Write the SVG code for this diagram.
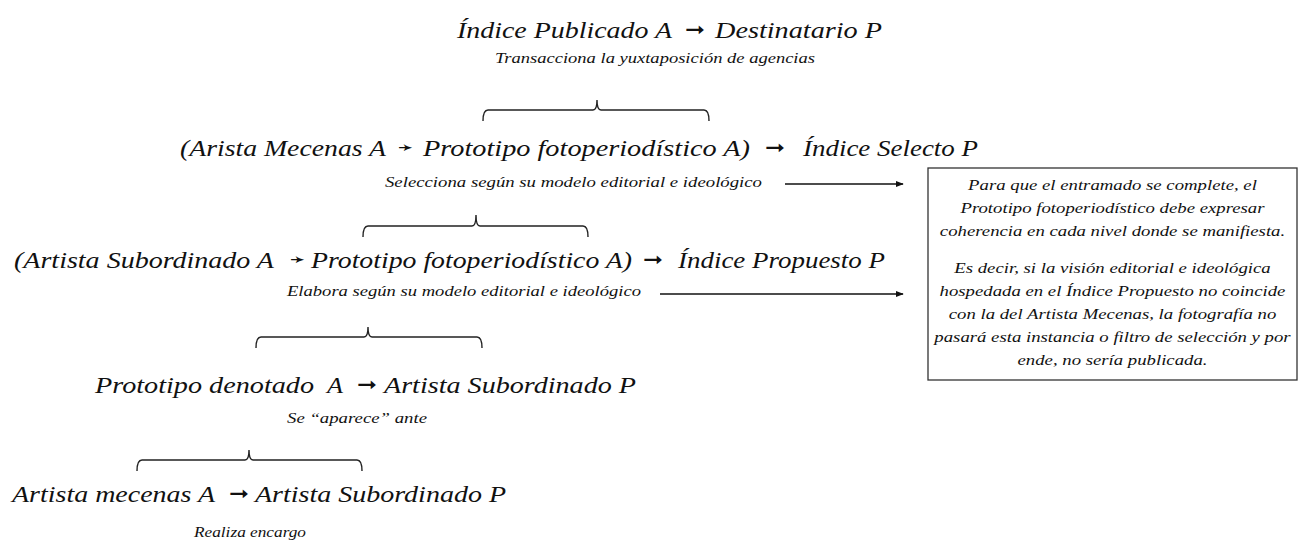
<svg xmlns="http://www.w3.org/2000/svg" width="1298" height="542" viewBox="0 0 1298 542">
<defs>
  <marker id="ah" viewBox="0 0 10 10" refX="9" refY="5" markerWidth="8" markerHeight="8" markerUnits="userSpaceOnUse" orient="auto">
    <path d="M0,1 L10,5 L0,9 z" fill="#111"/>
  </marker>
</defs>
<rect width="1298" height="542" fill="#fff"/>

<g id="node-indice-publicado" fill="#111">
  <text font-family="Liberation Serif" font-style="italic" font-size="24" x="457" y="38" textLength="215" lengthAdjust="spacingAndGlyphs">Índice Publicado A</text>
  <text font-family="DejaVu Sans" font-size="20" x="685" y="36" textLength="20" lengthAdjust="spacingAndGlyphs">➞</text>
  <text font-family="Liberation Serif" font-style="italic" font-size="24" x="715" y="38" textLength="167" lengthAdjust="spacingAndGlyphs">Destinatario P</text>
  <text font-family="Liberation Serif" font-style="italic" font-size="15.5" x="495" y="63" textLength="320" lengthAdjust="spacingAndGlyphs">Transacciona la yuxtaposición de agencias</text>
</g>

<g id="node-indice-selecto" fill="#111">
  <text font-family="Liberation Serif" font-style="italic" font-size="24" x="180" y="156" textLength="206" lengthAdjust="spacingAndGlyphs">(Arista Mecenas A</text>
  <text font-family="DejaVu Sans" font-size="20" x="398" y="154" textLength="15" lengthAdjust="spacingAndGlyphs">➛</text>
  <text font-family="Liberation Serif" font-style="italic" font-size="24" x="423" y="156" textLength="327" lengthAdjust="spacingAndGlyphs">Prototipo fotoperiodístico A)</text>
  <text font-family="DejaVu Sans" font-size="20" x="765" y="154" textLength="20" lengthAdjust="spacingAndGlyphs">➞</text>
  <text font-family="Liberation Serif" font-style="italic" font-size="24" x="803" y="156" textLength="175" lengthAdjust="spacingAndGlyphs">Índice Selecto P</text>
  <text font-family="Liberation Serif" font-style="italic" font-size="15.5" x="385" y="187" textLength="377" lengthAdjust="spacingAndGlyphs">Selecciona según su modelo editorial e ideológico</text>
</g>

<g id="node-indice-propuesto" fill="#111">
  <text font-family="Liberation Serif" font-style="italic" font-size="24" x="14" y="268" textLength="260" lengthAdjust="spacingAndGlyphs">(Artista Subordinado A</text>
  <text font-family="DejaVu Sans" font-size="20" x="290" y="266" textLength="15" lengthAdjust="spacingAndGlyphs">➛</text>
  <text font-family="Liberation Serif" font-style="italic" font-size="24" x="311" y="268" textLength="321" lengthAdjust="spacingAndGlyphs">Prototipo fotoperiodístico A)</text>
  <text font-family="DejaVu Sans" font-size="20" x="643" y="266" textLength="20" lengthAdjust="spacingAndGlyphs">➞</text>
  <text font-family="Liberation Serif" font-style="italic" font-size="24" x="678" y="268" textLength="207" lengthAdjust="spacingAndGlyphs">Índice Propuesto P</text>
  <text font-family="Liberation Serif" font-style="italic" font-size="15.5" x="287" y="296" textLength="354" lengthAdjust="spacingAndGlyphs">Elabora según su modelo editorial e ideológico</text>
</g>

<g id="node-prototipo-denotado" fill="#111">
  <text font-family="Liberation Serif" font-style="italic" font-size="24" x="95" y="393" textLength="219" lengthAdjust="spacingAndGlyphs">Prototipo denotado</text>
  <text font-family="Liberation Serif" font-style="italic" font-size="24" x="327" y="393" textLength="16" lengthAdjust="spacingAndGlyphs">A</text>
  <text font-family="DejaVu Sans" font-size="20" x="357" y="391" textLength="20" lengthAdjust="spacingAndGlyphs">➞</text>
  <text font-family="Liberation Serif" font-style="italic" font-size="24" x="384" y="393" textLength="252" lengthAdjust="spacingAndGlyphs">Artista Subordinado P</text>
  <text font-family="Liberation Serif" font-style="italic" font-size="15.5" x="287" y="423" textLength="140" lengthAdjust="spacingAndGlyphs">Se “aparece” ante</text>
</g>

<g id="node-artista-mecenas" fill="#111">
  <text font-family="Liberation Serif" font-style="italic" font-size="24" x="12" y="502" textLength="203" lengthAdjust="spacingAndGlyphs">Artista mecenas A</text>
  <text font-family="DejaVu Sans" font-size="20" x="229" y="500" textLength="20" lengthAdjust="spacingAndGlyphs">➞</text>
  <text font-family="Liberation Serif" font-style="italic" font-size="24" x="255" y="502" textLength="251" lengthAdjust="spacingAndGlyphs">Artista Subordinado P</text>
  <text font-family="Liberation Serif" font-style="italic" font-size="15.5" x="194" y="537" textLength="112" lengthAdjust="spacingAndGlyphs">Realiza encargo</text>
</g>

<g id="note-box" fill="#111">
  <rect x="928" y="168" width="369" height="212" fill="#fff" stroke="#333" stroke-width="1.3"/>
  <g transform="translate(1112.5,0) scale(1.21,1)">
    <text font-family="Liberation Serif" font-style="italic" font-size="15.5" text-anchor="middle" x="0" y="190">Para que el entramado se complete, el</text>
    <text font-family="Liberation Serif" font-style="italic" font-size="15.5" text-anchor="middle" x="0" y="213">Prototipo fotoperiodístico debe expresar</text>
    <text font-family="Liberation Serif" font-style="italic" font-size="15.5" text-anchor="middle" x="0" y="236">coherencia en cada nivel donde se manifiesta.</text>
    <text font-family="Liberation Serif" font-style="italic" font-size="15.5" text-anchor="middle" x="0" y="273">Es decir, si la visión editorial e ideológica</text>
    <text font-family="Liberation Serif" font-style="italic" font-size="15.5" text-anchor="middle" x="0" y="296">hospedada en el Índice Propuesto no coincide</text>
    <text font-family="Liberation Serif" font-style="italic" font-size="15.5" text-anchor="middle" x="0" y="319">con la del Artista Mecenas, la fotografía no</text>
    <text font-family="Liberation Serif" font-style="italic" font-size="15.5" text-anchor="middle" x="0" y="342">pasará esta instancia o filtro de selección y por</text>
    <text font-family="Liberation Serif" font-style="italic" font-size="15.5" text-anchor="middle" x="0" y="365">ende, no sería publicada.</text>
  </g>
</g>

<g id="connectors" fill="none" stroke="#222" stroke-width="1.4">
  <path d="M483,121 Q483,110 488,110 L593,110 Q597,110 597,100 Q597,110 601,110 L704,110 Q709,110 709,121"/>
  <path d="M363,237 Q363,226 368,226 L472,226 Q476,226 476,215 Q476,226 480,226 L583,226 Q588,226 588,237"/>
  <path d="M256,348 Q256,337 261,337 L364,337 Q368,337 368,327 Q368,337 372,337 L477,337 Q482,337 482,348"/>
  <path d="M137,471 Q137,460 142,460 L245,460 Q249,460 249,450 Q249,460 253,460 L357,460 Q362,460 362,471"/>
  <line x1="785" y1="184" x2="903" y2="184" stroke="#111" stroke-width="1.3" marker-end="url(#ah)"/>
  <line x1="660" y1="294" x2="903" y2="294" stroke="#111" stroke-width="1.3" marker-end="url(#ah)"/>
</g>
</svg>
